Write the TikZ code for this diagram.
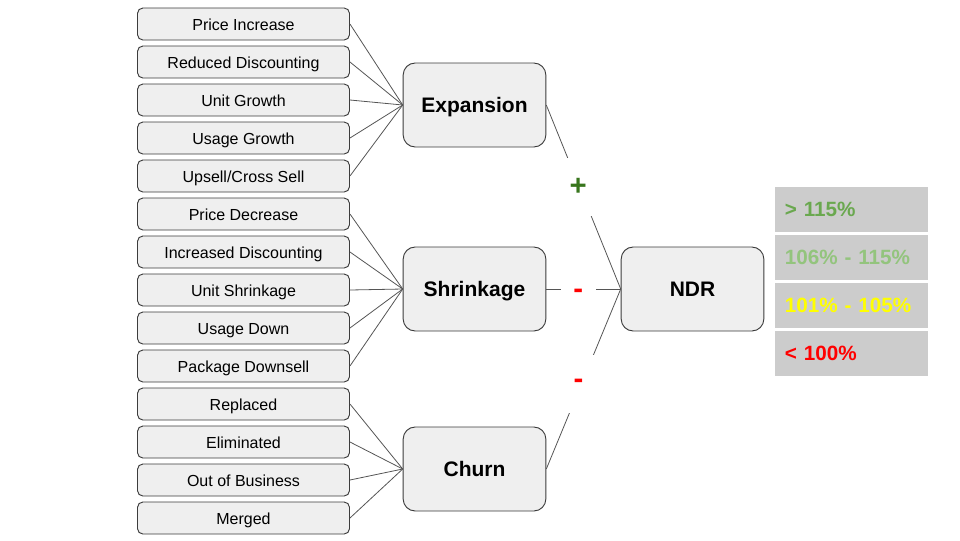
\documentclass[tikz,border=0pt]{standalone}
\usepackage{fontspec}
\setmainfont{Liberation Sans}
\definecolor{boxfill}{HTML}{EFEFEF}
\definecolor{boxline}{HTML}{3C3C3C}
\definecolor{conn}{HTML}{555555}
\definecolor{gfill}{HTML}{CCCCCC}
\definecolor{dgreen}{HTML}{6AA84F}
\definecolor{lgreen}{HTML}{93C47D}
\definecolor{yel}{HTML}{FFFF00}
\definecolor{red0}{HTML}{FF0000}
\definecolor{plusgreen}{HTML}{38761D}
\tikzset{
  smallbox/.style={draw=boxline, fill=boxfill, line width=0.7pt, rounded corners=4pt,
    minimum width=159pt, minimum height=24pt, inner sep=0pt,
    text height=10.4pt, text depth=0pt,
    font=\fontsize{12}{14}\selectfont},
  bigbox/.style={draw=boxline, fill=boxfill, line width=0.7pt, rounded corners=9pt,
    minimum width=107pt, minimum height=63pt, inner sep=0pt,
    text height=11.3pt, text depth=0pt,
    font=\fontsize{15.75}{18}\selectfont\bfseries},
  conline/.style={draw=conn, line width=0.6pt},
  signlab/.style={fill=white, minimum width=26pt, minimum height=43pt, inner sep=0pt,
    font=\fontsize{22}{24}\selectfont\bfseries},
  rangebox/.style={fill=gfill, minimum width=114.75pt, minimum height=33.75pt,
    text width=100pt, align=left, inner xsep=7.4pt, inner ysep=0pt,
    font=\fontsize{15.5}{18}\selectfont\bfseries}
}
\begin{document}
\begin{tikzpicture}[x=0.75pt,y=-0.75pt]
\useasboundingbox (0,0) rectangle (960,540);
% small boxes
\node[smallbox] (s1) at (243.5,24) {Price Increase};
\node[smallbox] (s2) at (243.5,62) {Reduced Discounting};
\node[smallbox] (s3) at (243.5,100) {Unit Growth};
\node[smallbox] (s4) at (243.5,138) {Usage Growth};
\node[smallbox] (s5) at (243.5,176) {Upsell/Cross Sell};
\node[smallbox] (s6) at (243.5,214) {Price Decrease};
\node[smallbox] (s7) at (243.5,252) {Increased Discounting};
\node[smallbox] (s8) at (243.5,290) {Unit Shrinkage};
\node[smallbox] (s9) at (243.5,328) {Usage Down};
\node[smallbox] (s10) at (243.5,366) {Package Downsell};
\node[smallbox] (s11) at (243.5,404) {Replaced};
\node[smallbox] (s12) at (243.5,442) {Eliminated};
\node[smallbox] (s13) at (243.5,480) {Out of Business};
\node[smallbox] (s14) at (243.5,518) {Merged};
% big boxes
\node[bigbox] (exp) at (474.5,105) {Expansion};
\node[bigbox] (shr) at (474.5,289) {Shrinkage};
\node[bigbox] (chu) at (474.5,469) {Churn};
\node[bigbox] (ndr) at (692.5,289) {NDR};
% connectors
\foreach \i in {1,...,5} \draw[conline] (s\i.east) -- (exp.west);
\foreach \i in {6,...,10} \draw[conline] (s\i.east) -- (shr.west);
\foreach \i in {11,...,14} \draw[conline] (s\i.east) -- (chu.west);
\draw[conline] (exp.east) -- node[signlab, pos=0.43, yshift=-2.25pt, text=plusgreen] (plus) {+} (ndr.west);
\draw[conline] (shr.east) -- node[signlab, pos=0.43, yshift=-3.75pt, text=red0] (m1) {-} (ndr.west);
\draw[conline] (chu.east) -- node[signlab, pos=0.5, yshift=-3.75pt, xshift=-3.75pt, text=red0] (m2) {-} (ndr.west);
% range boxes
\node[rangebox, text=dgreen] (r1) at (851.5,209) {> 115\%};
\node[rangebox, text=lgreen] (r2) at (851.5,257) {106\% - 115\%};
\node[rangebox, text=yel] (r3) at (851.5,305) {101\% - 105\%};
\node[rangebox, text=red0] (r4) at (851.5,353) {< 100\%};
\end{tikzpicture}
\end{document}
